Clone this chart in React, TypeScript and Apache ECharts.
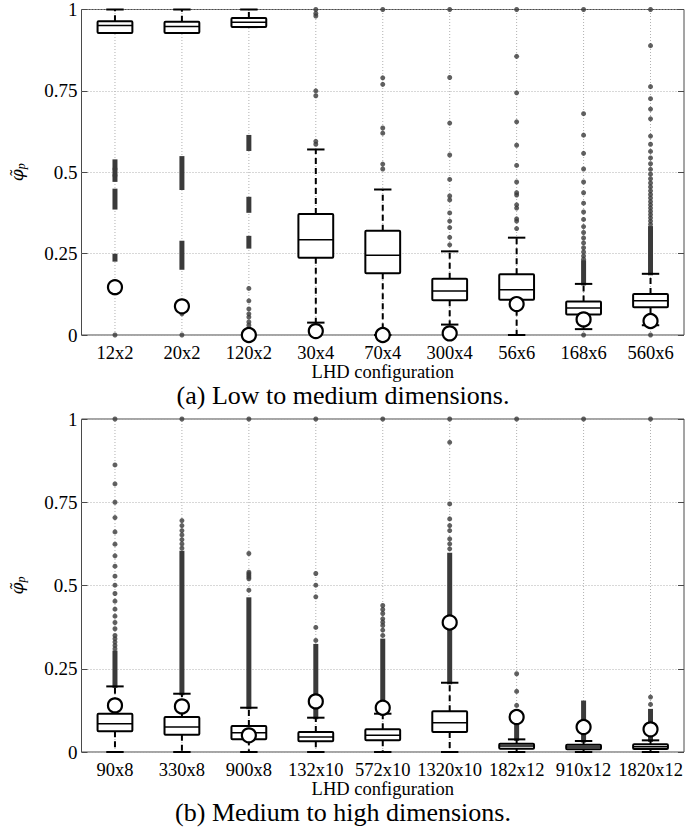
import React, { useEffect, useRef } from 'react';
import * as echarts from 'echarts';

// ---------- Panel (a) ----------
const categoriesA = ['12x2', '20x2', '120x2', '30x4', '70x4', '300x4', '56x6', '168x6', '560x6'];
// [lower whisker, Q1, median, Q3, upper whisker]
const boxesA = [
  [0.928, 0.928, 0.951, 0.964, 1.0],
  [0.928, 0.928, 0.948, 0.962, 1.0],
  [0.946, 0.946, 0.961, 0.974, 1.0],
  [0.038, 0.237, 0.293, 0.372, 0.57],
  [0.0, 0.19, 0.245, 0.32, 0.447],
  [0.032, 0.107, 0.135, 0.173, 0.257],
  [0.0, 0.108, 0.139, 0.187, 0.299],
  [0.018, 0.063, 0.083, 0.103, 0.157],
  [0.03, 0.085, 0.105, 0.126, 0.188],
];
const markersA = [0.147, 0.088, 0.0, 0.012, 0.0, 0.005, 0.095, 0.048, 0.043];
const outlierRunsA = [
  [[0.475, 0.535], [0.39, 0.445], [0.23, 0.245]],
  [[0.45, 0.545], [0.205, 0.285]],
  [[0.57, 0.61], [0.38, 0.42], [0.27, 0.3]],
  [],
  [],
  [],
  [],
  [[0.157, 0.225]],
  [[0.188, 0.33]],
];
const outliersA = [
  [0, 0.49, 0.51],
  [0, 0.065],
  [0.03, 0.04, 0.055, 0.065, 0.08, 0.105, 0.143],
  [0.586, 0.595, 0.735, 0.75, 0.98, 0.988, 1.0],
  [0.51, 0.525, 0.62, 0.636, 0.77, 0.79, 1.0],
  [0.277, 0.3, 0.33, 0.35, 0.375, 0.415, 0.427, 0.478, 0.553, 0.651, 0.791, 1.0],
  [0.327, 0.35, 0.357, 0.39, 0.4, 0.43, 0.437, 0.47, 0.521, 0.583, 0.655, 0.744, 0.856, 1.0],
  [0, 0.233, 0.243, 0.255, 0.268, 0.283, 0.298, 0.315, 0.333, 0.355, 0.378, 0.405, 0.437, 0.47, 0.51, 0.558, 0.614, 0.68, 1.0],
  [0, 0.34, 0.35, 0.36, 0.37, 0.38, 0.39, 0.4, 0.41, 0.421, 0.432, 0.443, 0.455, 0.467, 0.48, 0.494, 0.509, 0.526, 0.544, 0.564, 0.586, 0.611, 0.664, 0.694, 0.726, 0.763, 0.889, 1.0],
];

// ---------- Panel (b) ----------
const categoriesB = ['90x8', '330x8', '900x8', '132x10', '572x10', '1320x10', '182x12', '910x12', '1820x12'];
const boxesB = [
  [0, 0.062, 0.085, 0.115, 0.197],
  [0, 0.052, 0.075, 0.105, 0.175],
  [0, 0.038, 0.058, 0.078, 0.133],
  [0, 0.032, 0.045, 0.06, 0.103],
  [0, 0.035, 0.05, 0.068, 0.115],
  [0, 0.06, 0.088, 0.122, 0.208],
  [0, 0.01, 0.018, 0.025, 0.038],
  [0, 0.008, 0.015, 0.022, 0.033],
  [0, 0.009, 0.016, 0.023, 0.035],
];
const markersB = [0.14, 0.137, 0.05, 0.152, 0.133, 0.389, 0.105, 0.075, 0.068];
const outlierRunsB = [
  [[0.197, 0.3]],
  [[0.175, 0.6]],
  [[0.133, 0.46]],
  [[0.103, 0.32]],
  [[0.115, 0.336]],
  [[0.208, 0.594]],
  [[0.038, 0.105]],
  [[0.033, 0.15]],
  [[0.035, 0.125]],
];
const outliersB = [
  [0.31, 0.32, 0.33, 0.34, 0.35, 0.37, 0.389, 0.408, 0.429, 0.453, 0.476, 0.501, 0.528, 0.558, 0.589, 0.624, 0.661, 0.704, 0.75, 0.805, 0.862, 1.0],
  [0.612, 0.625, 0.638, 0.652, 0.665, 0.68, 0.695, 1.0],
  [0.486, 0.52, 0.525, 0.53, 0.535, 0.54, 0.596, 1.0],
  [0.335, 0.374, 0.466, 0.501, 0.536, 1.0],
  [0.35, 0.366, 0.38, 0.39, 0.4, 0.416, 0.428, 0.44, 1.0],
  [0.61, 0.625, 0.64, 0.665, 0.68, 0.7, 0.745, 0.93, 1.0],
  [0.14, 0.182, 0.235, 1.0],
  [1.0],
  [0.143, 0.165, 1.0],
];

const captionA = '(a) Low to medium dimensions.';
const captionB = '(b) Medium to high dimensions.';
const xAxisTitle = 'LHD configuration';

const SERIF = 'Liberation Serif';
const FRAME = '#4a4a4a';
const GRID = '#b0b0b0';
const OUT = '#3a3a3a';

function buildSeries(gi: number, cats: string[], boxes: number[][], markers: number[], runs: number[][][], outs: number[][]) {
  const vGrid = {
    type: 'custom',
    xAxisIndex: gi,
    yAxisIndex: gi * 2,
    z: 1,
    silent: true,
    data: cats.map((_, i) => [i, 0, 1]),
    encode: { x: 0, y: [1, 2] },
    renderItem: (params: any, api: any) => {
      const a = api.coord([api.value(0), 0]);
      const b = api.coord([api.value(0), 1]);
      return {
        type: 'line',
        shape: { x1: a[0], y1: a[1], x2: b[0], y2: b[1] },
        style: { stroke: GRID, lineWidth: 1, lineDash: [1, 2] },
      };
    },
  };
  const runData: number[][] = [];
  runs.forEach((list, i) => list.forEach((r) => runData.push([i, r[0], r[1]])));
  const runSeries = {
    type: 'custom',
    xAxisIndex: gi,
    yAxisIndex: gi * 2,
    z: 2,
    silent: true,
    data: runData,
    encode: { x: 0, y: [1, 2] },
    renderItem: (params: any, api: any) => {
      const a = api.coord([api.value(0), api.value(1)]);
      const b = api.coord([api.value(0), api.value(2)]);
      return {
        type: 'line',
        shape: { x1: a[0], y1: a[1] + 1.5, x2: b[0], y2: b[1] - 1.5 },
        style: { stroke: OUT, lineWidth: 5 },
      };
    },
  };
  const outData: number[][] = [];
  outs.forEach((list, i) => list.forEach((v) => outData.push([i, v])));
  const outSeries = {
    type: 'scatter',
    xAxisIndex: gi,
    yAxisIndex: gi * 2,
    z: 2,
    silent: true,
    symbol: 'circle',
    symbolSize: 5,
    itemStyle: { color: OUT },
    data: outData,
  };
  const boxSeries = {
    type: 'custom',
    xAxisIndex: gi,
    yAxisIndex: gi * 2,
    z: 3,
    silent: true,
    data: boxes.map((b, i) => [i, b[0], b[4]]),
    encode: { x: 0, y: [1, 2] },
    renderItem: (params: any, api: any) => {
      const i = params.dataIndex;
      const [lo, q1, med, q3, hi] = boxes[i];
      const band = api.size([1, 0])[0];
      const bw = band * 0.52;
      const cw = bw / 2;
      const pLo = api.coord([i, lo]);
      const pQ1 = api.coord([i, q1]);
      const pMed = api.coord([i, med]);
      const pQ3 = api.coord([i, q3]);
      const pHi = api.coord([i, hi]);
      const x = pMed[0];
      const dash = { stroke: '#000', lineWidth: 2, lineDash: [6, 4] };
      const solid = { stroke: '#000', lineWidth: 2 };
      return {
        type: 'group',
        children: [
          { type: 'line', shape: { x1: x, y1: pQ3[1], x2: x, y2: pHi[1] }, style: dash },
          { type: 'line', shape: { x1: x, y1: pQ1[1], x2: x, y2: pLo[1] }, style: dash },
          { type: 'line', shape: { x1: x - cw / 2, y1: pHi[1], x2: x + cw / 2, y2: pHi[1] }, style: solid },
          { type: 'line', shape: { x1: x - cw / 2, y1: pLo[1], x2: x + cw / 2, y2: pLo[1] }, style: solid },
          {
            type: 'rect',
            shape: { x: x - bw / 2, y: pQ3[1], width: bw, height: pQ1[1] - pQ3[1], r: 1 },
            style: { fill: '#fff', stroke: '#000', lineWidth: 2 },
          },
          { type: 'line', shape: { x1: x - bw / 2, y1: pMed[1], x2: x + bw / 2, y2: pMed[1] }, style: { stroke: '#000', lineWidth: 1.5 } },
        ],
      };
    },
  };
  const markerSeries = {
    type: 'scatter',
    xAxisIndex: gi,
    yAxisIndex: gi * 2,
    z: 4,
    silent: true,
    symbol: 'circle',
    symbolSize: 14,
    itemStyle: { color: '#fff', borderColor: '#000', borderWidth: 2.2, opacity: 1 },
    data: markers.map((v, i) => [i, v]),
  };
  return [vGrid, runSeries, outSeries, boxSeries, markerSeries];
}

function yAxes(gi: number) {
  const common = {
    type: 'value',
    gridIndex: gi,
    min: 0,
    max: 1,
    interval: 0.25,
    axisLine: { show: false },
    axisTick: { show: true, inside: true, length: 6, lineStyle: { color: FRAME } },
  };
  return [
    {
      ...common,
      position: 'left',
      name: '{t|φ̃}{s|p}',
      nameLocation: 'middle',
      nameRotate: 90,
      nameGap: 55,
      nameTextStyle: {
        rich: {
          t: { fontFamily: 'DejaVu Serif', fontStyle: 'italic', fontSize: 17, color: '#000' },
          s: { fontFamily: SERIF, fontStyle: 'italic', fontSize: 12, color: '#000', padding: [8, 0, 0, 0] },
        },
      },
      axisLabel: { fontFamily: SERIF, fontSize: 19, color: '#000', margin: 4 },
      splitLine: { show: true, lineStyle: { color: GRID, type: [1, 2], width: 1 } },
    },
    {
      ...common,
      position: 'right',
      axisLabel: { show: false },
      splitLine: { show: false },
    },
  ];
}

function xAxis(gi: number, cats: string[], gap: number) {
  return {
    type: 'category',
    gridIndex: gi,
    data: cats,
    axisLine: { show: false },
    axisTick: { show: false },
    axisLabel: { fontFamily: SERIF, fontSize: 18.5, color: '#000', margin: 8, interval: 0 },
    splitLine: { show: false },
    name: xAxisTitle,
    nameLocation: 'middle',
    nameGap: gap,
    nameTextStyle: { fontFamily: SERIF, fontSize: 18.5, color: '#000', lineHeight: 19 },
  };
}

export default function App() {
  const ref = useRef<HTMLDivElement>(null);
  useEffect(() => {
    if (!ref.current) return;
    const chart = echarts.init(ref.current, undefined, { renderer: 'svg' });
    const option: any = {
      animation: false,
      backgroundColor: '#fff',
      grid: [
        { left: 74, top: 2, width: 610, height: 333, show: true, borderColor: FRAME, borderWidth: 1, backgroundColor: 'transparent' },
        { left: 74, top: 419, width: 610, height: 333, show: true, borderColor: FRAME, borderWidth: 1, backgroundColor: 'transparent' },
      ],
      xAxis: [xAxis(0, categoriesA, 25), xAxis(1, categoriesB, 24)],
      yAxis: [...yAxes(0), ...yAxes(1)],
      graphic: [
        {
          type: 'text',
          left: 'center',
          top: 382,
          style: { text: captionA, fontFamily: SERIF, fontSize: 26, lineHeight: 25, fill: '#000' },
        },
        {
          type: 'text',
          left: 'center',
          top: 799,
          style: { text: captionB, fontFamily: SERIF, fontSize: 26, lineHeight: 25, fill: '#000' },
        },
      ],
      series: [
        ...buildSeries(0, categoriesA, boxesA, markersA, outlierRunsA, outliersA),
        ...buildSeries(1, categoriesB, boxesB, markersB, outlierRunsB, outliersB),
      ],
    };
    chart.setOption(option);
    return () => chart.dispose();
  }, []);
  return (
    <div
      ref={ref}
      style={{ position: 'absolute', left: 0, top: 0, width: 686, height: 832 }}
    />
  );
}
